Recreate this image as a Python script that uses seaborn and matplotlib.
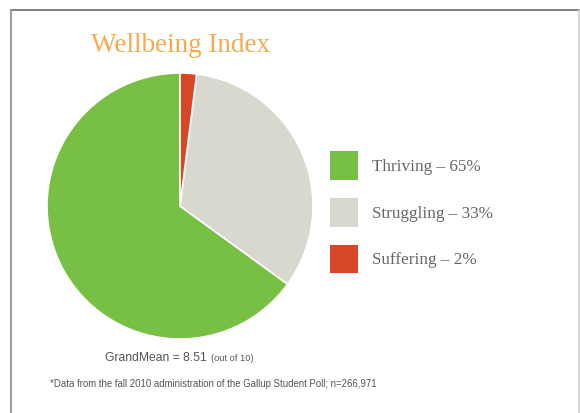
import matplotlib
matplotlib.use("Agg")
import matplotlib.pyplot as plt
import seaborn as sns
from matplotlib.patches import Patch
from matplotlib.lines import Line2D

# Data
categories = ["Thriving", "Struggling", "Suffering"]
shares = [65, 33, 2]
colors = ["#78C043", "#D8D8CE", "#D84628"]
title = "Wellbeing Index"
grand_mean = "GrandMean = 8.51"
grand_mean_note = "(out of 10)"
footnote = "*Data from the fall 2010 administration of the Gallup Student Poll; n=266,971"

sns.set_theme(style="white")
plt.rcParams["font.family"] = ["Liberation Serif", "DejaVu Serif"]

W, H = 580, 413
fig = plt.figure(figsize=(W / 100, H / 100), dpi=100)
fig.patch.set_facecolor("white")

# outer frame (partially cut off at the bottom)
fig.add_artist(Line2D([11 / W, 579 / W], [1 - 9.5 / H, 1 - 9.5 / H], color="#6a6a6a", lw=1.2))
fig.add_artist(Line2D([10.5 / W, 10.5 / W], [0, 1 - 9.5 / H], color="#8a8a8a", lw=1.2))
fig.add_artist(Line2D([578.5 / W, 578.5 / W], [0, 1 - 9.5 / H], color="#cfcfcf", lw=1.2))

# pie axes
cx, cy, r = 180, 206, 133
ax = fig.add_axes([(cx - r) / W, 1 - (cy + r) / H, 2 * r / W, 2 * r / H])
wedges, _ = ax.pie(shares, colors=colors, startangle=90,
                   wedgeprops=dict(edgecolor="white", linewidth=1.2))
ax.set_xlim(-1, 1)
ax.set_ylim(-1, 1)
ax.set_aspect("equal")

fig.text(181 / W, 1 - 46 / H, title, color="#F8AA4C", fontsize=19.5,
         ha="center", va="center")

labels = [f"{c} \u2013 {s}%" for c, s in zip(categories, shares)]
handles = [Patch(facecolor=c, edgecolor="none") for c in colors]
fig.legend(handles, labels, loc="upper left", bbox_to_anchor=(315 / W, 1 - 136 / H),
           frameon=False, fontsize=12.3, handlelength=1.64, handleheight=2.2,
           handletextpad=0.82, labelspacing=1.06, labelcolor="#666666")

fig.text(105 / W, 1 - 361 / H, grand_mean, color="#555555", fontsize=8.7,
         family="Liberation Sans", ha="left", va="baseline")
fig.text(211 / W, 1 - 361 / H, grand_mean_note, color="#555555", fontsize=6.7,
         family="Liberation Sans", ha="left", va="baseline")
fig.text(50 / W, 1 - 384 / H, footnote, color="#555555", fontsize=6.9,
         family="Liberation Sans", ha="left", va="center")

fig.savefig("out.png", dpi=100, facecolor="white")
